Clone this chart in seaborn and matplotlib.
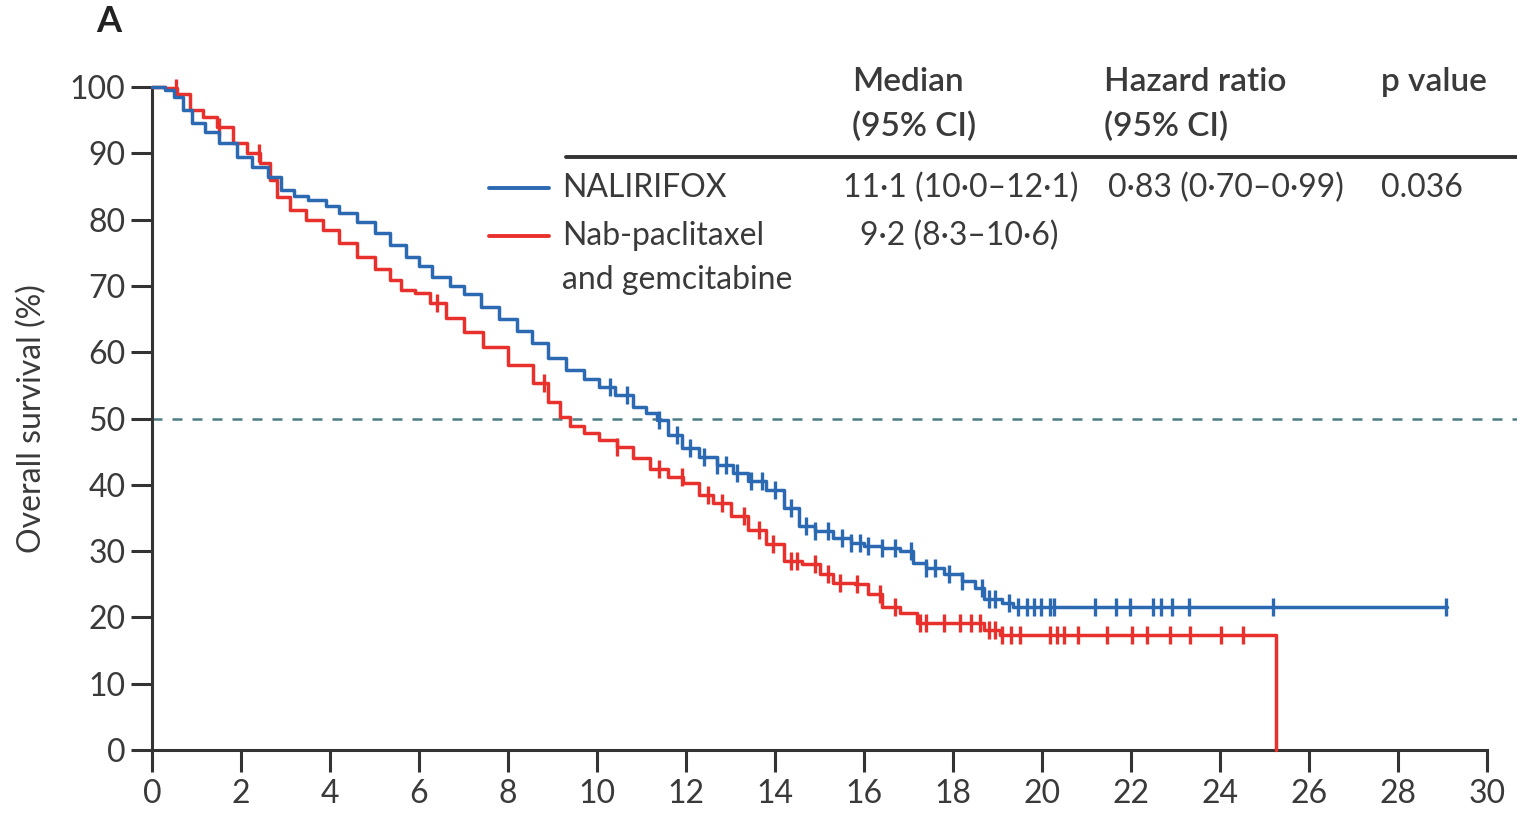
import numpy as np
import pandas as pd
import matplotlib
matplotlib.use("Agg")
import matplotlib.pyplot as plt
from matplotlib.lines import Line2D
import seaborn as sns

# ---------------- data ----------------
blue_t = [0, 0.3, 0.5, 0.7, 0.9, 1.2, 1.5, 1.9, 2.25, 2.6, 2.9, 3.2, 3.5, 3.9, 4.2, 4.6,
          5.0, 5.35, 5.7, 6.0, 6.3, 6.7, 7.0, 7.4, 7.8, 8.2, 8.55, 8.9, 9.3, 9.7, 10.05,
          10.4, 10.8, 11.1, 11.35, 11.6, 11.9, 12.3, 12.7, 13.05, 13.4, 13.8, 14.2, 14.55,
          14.9, 15.3, 15.7, 16.0, 16.4, 16.8, 17.1, 17.4, 17.8, 18.2, 18.5, 18.7, 19.1,
          19.35, 29.1]
blue_s = [100, 99.6, 98.5, 96.5, 94.5, 93.2, 91.5, 89.4, 87.9, 86.4, 84.5, 83.5, 83.0, 82.0,
          81.0, 79.6, 78.0, 76.2, 74.4, 73.0, 71.3, 70.0, 68.8, 66.8, 65.0, 63.2, 61.4, 59.2,
          57.3, 56.0, 54.8, 53.5, 51.7, 50.8, 49.8, 47.5, 45.6, 44.2, 43.0, 41.8, 40.5, 39.2,
          36.5, 33.8, 33.0, 32.0, 31.2, 30.8, 30.5, 30.0, 28.2, 27.4, 26.5, 25.5, 24.5, 22.8,
          22.2, 21.5, 21.5]

red_t = [0, 0.3, 0.56, 0.85, 1.15, 1.46, 1.82, 2.13, 2.43, 2.65, 2.8, 3.1, 3.45, 3.85, 4.2,
         4.6, 5.0, 5.35, 5.6, 5.9, 6.25, 6.6, 7.0, 7.44, 8.0, 8.56, 8.9, 9.17, 9.4, 9.7,
         10.05, 10.45, 10.8, 11.2, 11.6, 11.93, 12.3, 12.6, 13.0, 13.4, 13.8, 14.2, 14.6,
         15.0, 15.3, 15.8, 16.1, 16.4, 16.8, 17.2, 18.7, 19.05, 25.25]
red_s = [100, 99.8, 99.0, 96.5, 95.5, 94.0, 91.5, 90.0, 88.5, 86.0, 83.4, 81.4, 80.0, 78.4,
         76.5, 74.4, 72.5, 70.9, 69.4, 69.0, 67.4, 65.2, 63.0, 60.8, 58.0, 55.3, 52.5, 50.2,
         48.8, 47.8, 46.8, 45.7, 44.0, 42.4, 41.2, 40.3, 38.5, 37.2, 35.3, 33.2, 31.0, 28.5,
         28.0, 26.5, 25.2, 25.0, 23.5, 21.6, 20.7, 19.2, 18.1, 17.3, 0]

blue_cens = [10.3, 10.67, 11.4, 11.8, 12.1, 12.4, 12.7, 12.9, 13.15, 13.45, 13.7, 14.0, 14.35,
             14.7, 14.9, 15.2, 15.5, 15.7, 15.9, 16.1, 16.4, 16.7, 17.05, 17.4, 17.6, 17.9,
             18.2, 18.65, 18.8, 18.95, 19.26, 19.46, 19.66, 19.82, 19.98, 20.18, 20.26, 21.2,
             21.66, 21.98, 22.5, 22.67, 22.92, 23.3, 25.19, 29.08]
red_cens = [0.55, 1.5, 2.4, 6.4, 8.8, 10.45, 11.4, 11.9, 12.5, 12.8, 13.3, 13.65, 13.95, 14.35,
            14.5, 14.9, 15.2, 15.45, 15.85, 16.35, 16.7, 17.25, 17.4, 17.8, 18.15, 18.4, 18.6,
            18.8, 18.95, 19.1, 19.3, 19.5, 20.18, 20.34, 20.49, 20.82, 21.46, 22.03, 22.35,
            22.87, 23.33, 24.03, 24.51]

x_ticks = list(range(0, 31, 2))
y_ticks = list(range(0, 101, 10))

groups = ["NALIRIFOX", "Nab-paclitaxel\nand gemcitabine"]
medians = ["11·1 (10·0–12·1)", "9·2 (8·3–10·6)"]
hazard = "0·83 (0·70–0·99)"
pval = "0.036"

BLUE = "#2b69b3"
RED = "#e8302c"
TXT = "#3a3a3a"

# ---------------- figure ----------------
sns.set_style("ticks")
plt.rcParams["font.family"] = ["Lato", "DejaVu Sans"]

W, H = 1517, 813
fig = plt.figure(figsize=(W / 100, H / 100), dpi=100)
ax = fig.add_axes([152 / W, 1 - 750 / H, (1487 - 152) / W, (750 - 87) / H])


def surv_at(times, surv, t):
    idx = np.searchsorted(np.asarray(times), np.asarray(t), side="right") - 1
    return np.asarray(surv)[idx]


blue_df = pd.DataFrame({"t": blue_t, "s": blue_s})
red_df = pd.DataFrame({"t": red_t, "s": red_s})
blue_c = pd.DataFrame({"t": blue_cens, "s": surv_at(blue_t, blue_s, blue_cens)})
red_c = pd.DataFrame({"t": red_cens, "s": surv_at(red_t, red_s, red_cens)})

ax.axhline(50, xmin=0, xmax=1.03, color="#4d7d84", lw=1.8, ls=(0, (4, 4)), clip_on=False, zorder=1)

sns.lineplot(data=red_df, x="t", y="s", ax=ax, color=RED, lw=2.5, drawstyle="steps-post",
             estimator=None, sort=False, zorder=3)
sns.lineplot(data=blue_df, x="t", y="s", ax=ax, color=BLUE, lw=2.5, drawstyle="steps-post",
             estimator=None, sort=False, zorder=4)
sns.scatterplot(data=red_c, x="t", y="s", ax=ax, marker="|", s=170, linewidth=2.4,
                color=RED, zorder=3)
sns.scatterplot(data=blue_c, x="t", y="s", ax=ax, marker="|", s=170, linewidth=2.4,
                color=BLUE, zorder=4)
for l in ax.lines:
    l.set_clip_on(False)
for c in ax.collections:
    c.set_clip_on(False)

ax.set_xlim(0, 30)
ax.set_ylim(0, 100)
ax.set_xticks(x_ticks)
ax.set_yticks(y_ticks)
ax.set_xlabel("")
ax.set_ylabel("Overall survival (%)", fontsize=23, color=TXT, labelpad=16)
sns.despine(ax=ax)
for sp in ("left", "bottom"):
    ax.spines[sp].set_linewidth(2.2)
    ax.spines[sp].set_color("#333333")
ax.tick_params(axis="both", width=2.2, color="#333333", labelsize=23,
               labelcolor=TXT, direction="out")
ax.tick_params(axis="x", length=16, pad=5)
ax.tick_params(axis="y", length=15, pad=4)

# ---------------- panel label & table ----------------
def ftext(x, y, s, color=TXT, **kw):
    fig.text(x / W, 1 - y / H, s, color=color, va="center", **kw)

ftext(96, 22, "A", fontsize=26, fontweight="bold", color="#222222")

HS = 24
ftext(852, 82, "Median", fontsize=HS, fontweight="semibold")
ftext(852, 127, "(95% CI)", fontsize=HS, fontweight="semibold")
ftext(1104, 82, "Hazard ratio", fontsize=HS, fontweight="semibold")
ftext(1104, 127, "(95% CI)", fontsize=HS, fontweight="semibold")
ftext(1381, 82, "p value", fontsize=HS, fontweight="semibold")

fig.add_artist(Line2D([566 / W, 1517 / W], [1 - 157 / H, 1 - 157 / H], color="#333333", lw=2.8))

fig.add_artist(Line2D([489 / W, 549 / W], [1 - 188 / H] * 2, color=BLUE, lw=2.8))
fig.add_artist(Line2D([489 / W, 549 / W], [1 - 236 / H] * 2, color=RED, lw=2.8))
RS = 23
ftext(562, 188, groups[0], fontsize=RS)
ftext(562, 236, groups[1].split("\n")[0], fontsize=RS)
ftext(562, 280, groups[1].split("\n")[1], fontsize=RS)
ftext(843, 188, medians[0], fontsize=RS)
ftext(860, 236, medians[1], fontsize=RS)
ftext(1108, 188, hazard, fontsize=RS)
ftext(1381, 188, pval, fontsize=RS)

fig.savefig("out.png", dpi=100)
